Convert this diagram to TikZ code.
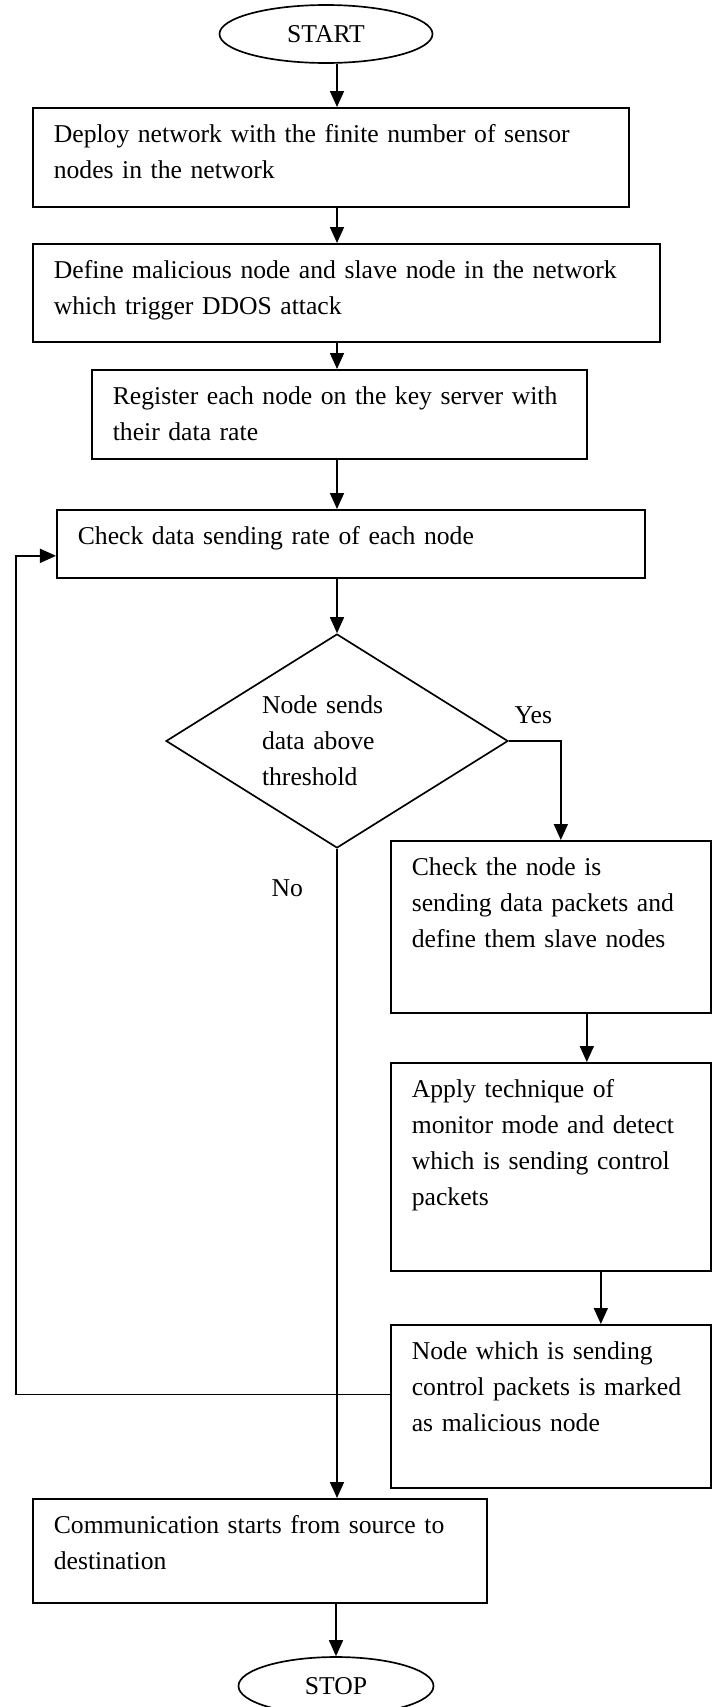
\documentclass[tikz,border=0pt]{standalone}
\usepackage{fontspec}
\setmainfont{Liberation Serif}
\usetikzlibrary{shapes.geometric,arrows.meta}

\begin{document}
\begin{tikzpicture}[
    font=\fontsize{14.6}{20.4}\selectfont,
    line width=0.95pt,
    stepbox/.style={draw, anchor=north west, align=left, inner xsep=0.42cm,
        inner ysep=0pt, text height=0.70cm},
    terminal/.style={draw, ellipse, minimum width=#1, minimum height=1.16cm, inner sep=0pt},
    decision/.style={draw, diamond, aspect=1.6, minimum width=6.84cm, minimum height=4.28cm,
        inner sep=0pt, text width=3cm, align=left},
    arr/.style={-{Triangle[length=0.32cm,width=0.28cm]}},
    ]

\useasboundingbox (0,0) rectangle (14.28,-34.14);

% start
    \node[terminal=4.26cm] (start) at (6.52,-0.68) {START};

% main column
    \node[stepbox, text width=11.08cm, text depth=1.28cm] (deploy) at (0.64,-2.14)
        {Deploy network with the finite number of sensor\\nodes in the network};
    \node[stepbox, text width=11.70cm, text depth=1.26cm] (define) at (0.64,-4.86)
        {Define malicious node and slave node in the network\\which trigger DDOS attack};
    \node[stepbox, text width=9.06cm, text depth=1.08cm] (register) at (1.82,-7.38)
        {Register each node on the key server with\\their data rate};
    \node[stepbox, text width=10.92cm, text depth=0.66cm] (check) at (1.12,-10.18)
        {Check data sending rate of each node};

% decision
    \node[decision] (dec) at (6.74,-14.82) {Node sends\\data above\\threshold};
    \node[anchor=base west] (yes) at (10.16,-14.46) {Yes};
    \node[anchor=base west] (no) at (5.30,-17.92) {No};

% yes branch
    \node[stepbox, text width=5.56cm, text depth=2.74cm] (slave) at (7.80,-16.80)
        {Check the node is\\sending data packets and\\define them slave nodes};
    \node[stepbox, text width=5.56cm, text depth=3.46cm] (monitor) at (7.80,-21.24)
        {Apply technique of\\monitor mode and detect\\which is sending control\\packets};
    \node[stepbox, text width=5.56cm, text depth=2.56cm] (mark) at (7.80,-26.48)
        {Node which is sending\\control packets is marked\\as malicious node};

% end
    \node[stepbox, text width=8.24cm, text depth=1.38cm] (comm) at (0.64,-29.96)
        {Communication starts from source to\\destination};
    \node[terminal=3.90cm] (stop) at (6.72,-33.72) {STOP};

% connectors
    \coordinate (axis) at (6.74,0);
    \draw[arr] (start.south -| axis) -- (deploy.north -| axis);
    \draw[arr] (deploy.south -| axis) -- (define.north -| axis);
    \draw[arr] (define.south -| axis) -- (register.north -| axis);
    \draw[arr] (register.south -| axis) -- (check.north -| axis);
    \draw[arr] (check.south -| axis) -- (dec.north);

    \draw[arr] (dec.east) -| ([xshift=0.2cm]slave.north);
    \draw[arr] ([xshift=0.72cm]slave.south) -- ([xshift=0.72cm]monitor.north);
    \draw[arr] ([xshift=1.0cm]monitor.south) -- ([xshift=1.0cm]mark.north);

    \draw[arr] (dec.south) -- (dec.south |- comm.north);
    \draw[arr] (comm.south -| stop.north) -- (stop.north);

% back to check
    \coordinate (back) at (0.32,0);
    \coordinate (markout) at ([yshift=0.24cm]mark.west);
    \coordinate (checkin) at ([yshift=-0.24cm]check.west);
    \draw[arr] (markout) -| (back |- checkin) -- (checkin);

\end{tikzpicture}
\end{document}
